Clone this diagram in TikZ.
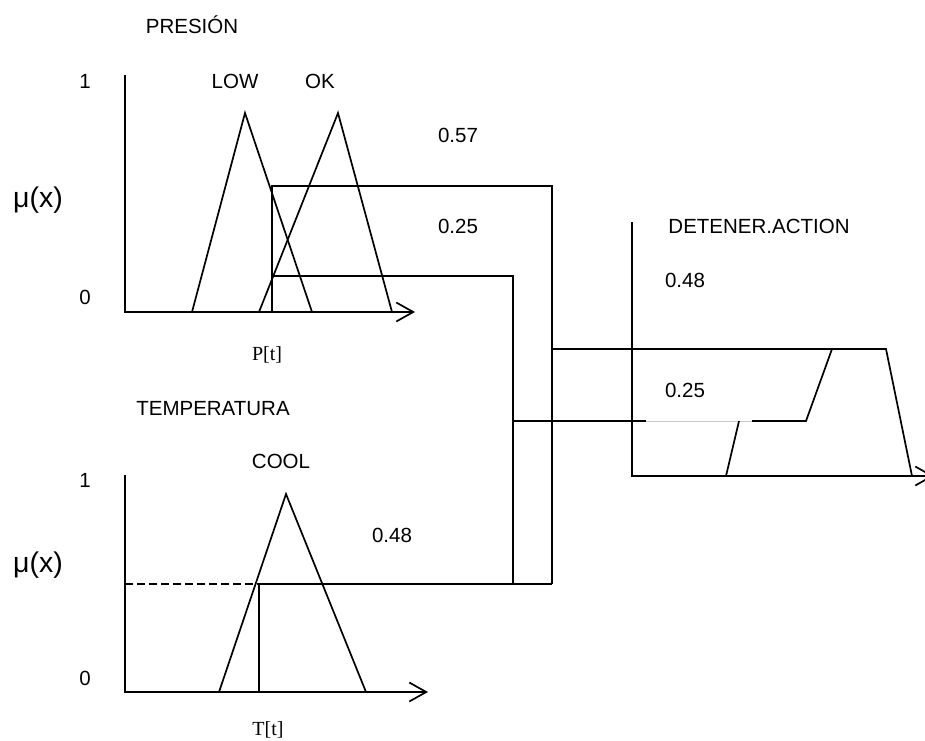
\documentclass[tikz,border=0pt]{standalone}
\usepackage{fontspec}
\setmainfont{Liberation Sans}
\newfontfamily\serifT{Liberation Serif}
\usetikzlibrary{arrows.meta}
\begin{document}
\begin{tikzpicture}[x=1pt,y=-1pt,line width=1.7pt,line join=miter,
  lbl/.style={anchor=base,inner sep=0pt,font=\fontsize{20.5}{24}\selectfont},
  mulbl/.style={anchor=base,inner sep=0pt,font=\fontsize{28.5}{32}\selectfont},
  varlbl/.style={anchor=base,inner sep=0pt,font=\serifT\fontsize{20}{24}\selectfont},
  axisarrow/.style={-{Straight Barb[length=17pt,width=19pt]}},
  faint/.style={line width=1pt,draw=black!22}]
\useasboundingbox (0,0) rectangle (925,740);

% ---------- coordinates ----------
% pressure chart
\coordinate (pTop) at (125,75);
\coordinate (pO) at (125,312);
\coordinate (pEnd) at (415,312);
\coordinate (lowL) at (192,312);
\coordinate (lowP) at (245,113);
\coordinate (lowR) at (312,312);
\coordinate (okL) at (259,312);
\coordinate (okP) at (338,113);
\coordinate (okR) at (392,312);
\coordinate (pIn) at (272,312);
\coordinate (pHi) at (272,186);
\coordinate (pLo) at (272,276);
\coordinate (hiC) at (552,186);
\coordinate (loC) at (513,276);
% temperature chart
\coordinate (tTop) at (125,475);
\coordinate (tO) at (125,692);
\coordinate (tEnd) at (428,692);
\coordinate (coolL) at (219,692);
\coordinate (coolP) at (286,494);
\coordinate (coolR) at (366,692);
\coordinate (tIn) at (259,692);
\coordinate (tLv) at (259,584);
\coordinate (tAx) at (125,584);
\coordinate (tA) at (513,584);
\coordinate (tB) at (552,584);
% junctions
\coordinate (jHi) at (552,349);
\coordinate (jLo) at (513,421);
% action chart
\coordinate (aTop) at (632,222);
\coordinate (aO) at (632,476);
\coordinate (aEnd) at (934,476);
\coordinate (gS) at (646,421);
\coordinate (gE) at (752,421);
\coordinate (rampA) at (806,421);
\coordinate (trTL) at (832,349);
\coordinate (trTR) at (886,349);
\coordinate (trBR) at (912,476);
\coordinate (cutT) at (739,421);
\coordinate (cutB) at (726,476);

% ---------- pressure chart ----------
\draw[axisarrow] (pTop) -- (pO) -- (pEnd);
\draw (lowL) -- (lowP) -- (lowR);
\draw (okL) -- (okP) -- (okR);
\draw (pIn) -- (pHi) -- (hiC) -- (tB);
\draw (pLo) -- (loC) -- (tA);

% ---------- temperature chart ----------
\draw[axisarrow] (tTop) -- (tO) -- (tEnd);
\draw (coolL) -- (coolP) -- (coolR);
\draw[dash pattern=on 8pt off 4pt] (tAx) -- (tLv);
\draw (tIn) -- (tLv) -- (tB);

% ---------- action chart ----------
\draw[axisarrow] (aTop) -- (aO) -- (aEnd);
\draw (jHi) -- (trTR) -- (trBR);
\draw (jLo) -- (gS);
\draw[faint] (gS) -- (gE);
\draw (gE) -- (rampA) -- (trTL);
\draw (cutT) -- (cutB);

% ---------- labels ----------
\node[lbl] (presion) at (192,33) {PRESIÓN};
\node[lbl] (p1) at (85,88) {1};
\node[lbl] (p0) at (85,304) {0};
\node[lbl] (low) at (235,88) {LOW};
\node[lbl] (ok) at (320,88) {OK};
\node[mulbl] (mu1) at (38,207) {μ(x)};
\node[varlbl] (pt) at (267,360) {P[t]};
\node[lbl] (v057) at (458,142) {0.57};
\node[lbl] (v025) at (458,233) {0.25};

\node[lbl] (temp) at (213,415) {TEMPERATURA};
\node[lbl] (cool) at (281,468) {COOL};
\node[lbl] (t1) at (85,487) {1};
\node[lbl] (t0) at (85,685) {0};
\node[mulbl] (mu2) at (38,572) {μ(x)};
\node[varlbl] (tt) at (268,735) {T[t]};
\node[lbl] (v048b) at (392,542) {0.48};

\node[lbl] (det) at (759,233) {DETENER.ACTION};
\node[lbl] (v048a) at (685,287) {0.48};
\node[lbl] (v025a) at (685,397) {0.25};
\end{tikzpicture}
\end{document}
